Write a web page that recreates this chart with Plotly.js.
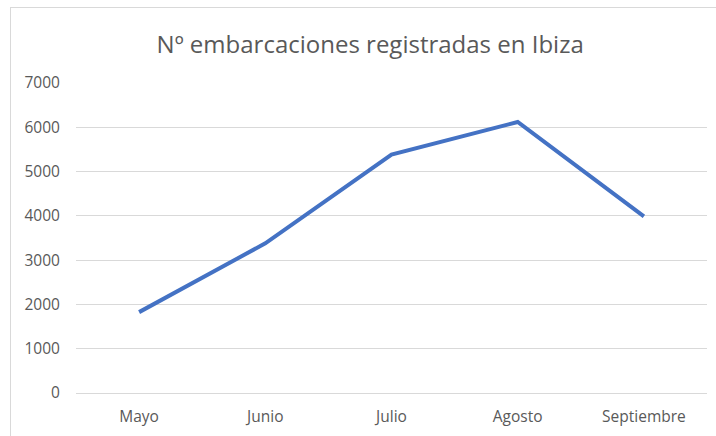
<!DOCTYPE html>
<html>
<head>
<meta charset="utf-8">
<script src="https://cdn.plot.ly/plotly-3.0.1.min.js"></script>
<style>
html,body{margin:0;padding:0;background:#fff;}
#wrap{position:relative;width:716px;height:436px;overflow:hidden;}
#chart{width:716px;height:436px;}
#frame{position:absolute;left:10px;top:7px;width:740px;height:460px;border:1.5px solid #d9d9d9;pointer-events:none;box-sizing:border-box;}
</style>
</head>
<body>
<div id="wrap">
<div id="chart"></div>
<div id="frame"></div>
</div>
<script>
const months = ["Mayo", "Junio", "Julio", "Agosto", "Septiembre"];
const embarcaciones = [1826, 3380, 5385, 6120, 3990];
const yTicks = [0, 1000, 2000, 3000, 4000, 5000, 6000, 7000];
const chartTitle = "Nº embarcaciones registradas en Ibiza";

const fontFam = "'Open Sans', 'Noto Sans', sans-serif";
Plotly.newPlot('chart', [{
  x: months,
  y: embarcaciones,
  type: 'scatter',
  mode: 'lines',
  line: {color: '#4472C4', width: 4},
  hoverinfo: 'x+y'
}], {
  width: 716, height: 436,
  margin: {l: 76, r: 9, t: 83, b: 43},
  paper_bgcolor: '#fff', plot_bgcolor: '#fff',
  showlegend: false,
  font: {family: fontFam, color: '#595959', size: 15},
  title: {text: chartTitle, font: {family: fontFam, size: 24, color: '#595959'},
          x: 0.517, xref: 'container', xanchor: 'center', y: 0.897, yref: 'container', yanchor: 'middle'},
  xaxis: {type: 'category', range: [-0.5, 4.5], showgrid: false, zeroline: false, showline: false,
          ticks: 'outside', ticklen: 9, tickcolor: 'rgba(0,0,0,0)',
          tickfont: {family: fontFam, size: 15.5, color: '#595959'}},
  yaxis: {range: [0, 7000], tickvals: yTicks, showgrid: true, gridcolor: '#d9d9d9', gridwidth: 1,
          zeroline: true, zerolinecolor: '#d9d9d9', zerolinewidth: 1, showline: false,
          ticks: 'outside', ticklen: 12, tickcolor: 'rgba(0,0,0,0)',
          tickfont: {family: fontFam, size: 15.5, color: '#595959'}}
}, {displayModeBar: false, staticPlot: true});
</script>
</body>
</html>
